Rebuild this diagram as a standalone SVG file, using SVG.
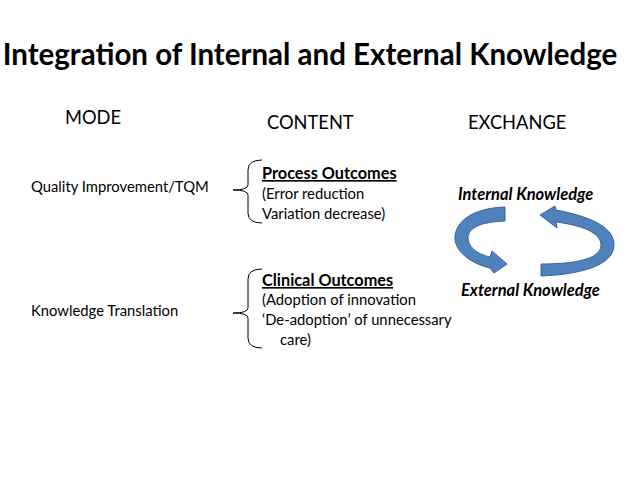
<svg xmlns="http://www.w3.org/2000/svg" width="638" height="479" viewBox="0 0 638 479">
<style>
text{font-family:Lato,"Liberation Sans",sans-serif;fill:#000}
.h{font-size:18.3px}
.m{font-size:14.8px}
.c{font-size:14.8px}
.b{font-size:16.3px;font-weight:bold;text-decoration:underline}
.k{font-size:16.5px;font-weight:bold;font-style:italic}
.br{fill:none;stroke:#000;stroke-width:1}
.ar{fill:#4f81bd;stroke:#3a6496;stroke-width:1}
</style>
<rect width="638" height="479" fill="#fff"/>
<text x="310" y="65" text-anchor="middle" font-size="29.5" font-weight="bold">Integration of Internal and External Knowledge</text>
<g id="headers">
<text class="h" x="65" y="124">MODE</text>
<text class="h" x="267" y="129">CONTENT</text>
<text class="h" x="468" y="129">EXCHANGE</text>
</g>
<g id="qi"><text class="m" x="31" y="192">Quality Improvement/TQM</text></g>
<g id="kt"><text class="m" x="31" y="316">Knowledge Translation</text></g>
<g id="process">
<text class="b" x="262" y="179">Process Outcomes</text>
<text class="c" x="262" y="199">(Error reduction</text>
<text class="c" x="262" y="219">Variation decrease)</text>
</g>
<g id="clinical">
<text class="b" x="262" y="286">Clinical Outcomes</text>
<text class="c" x="262" y="305">(Adoption of innovation</text>
<text class="c" x="262" y="325">‘De-adoption’ of unnecessary</text>
<text class="c" x="280" y="345">care)</text>
</g>
<g id="exchange">
<text class="k" x="458" y="200">Internal Knowledge</text>
<text class="k" x="461" y="296">External Knowledge</text>
</g>
<g id="connectors">
<path class="br" d="M262,160 Q248,160 248,170 L248,185 Q248,190 233,190 Q248,190 248,195 L248,213 Q248,223 262,223"/>
<path class="br" d="M262,269 Q248,269 248,279 L248,308 Q248,313 233,313 Q248,313 248,318 L248,338 Q248,348 262,348"/>
<path class="ar" d="M505,207 C472,208 455,222 455,238 C455,252 472,264 490,268 L494,273 L507,264 L492,251 L490,257 C476,254 468,246 468,238 C468,228 480,222 505,221 Z"/>
<path class="ar" d="M541,276 C590,274 614,262 614,245 C614,230 598,218 556,210 L555,206 L540,215 L557,228 L556,222 C588,226 601,235 601,245 C601,256 585,264 541,264 Z"/>
</g>
</svg>
